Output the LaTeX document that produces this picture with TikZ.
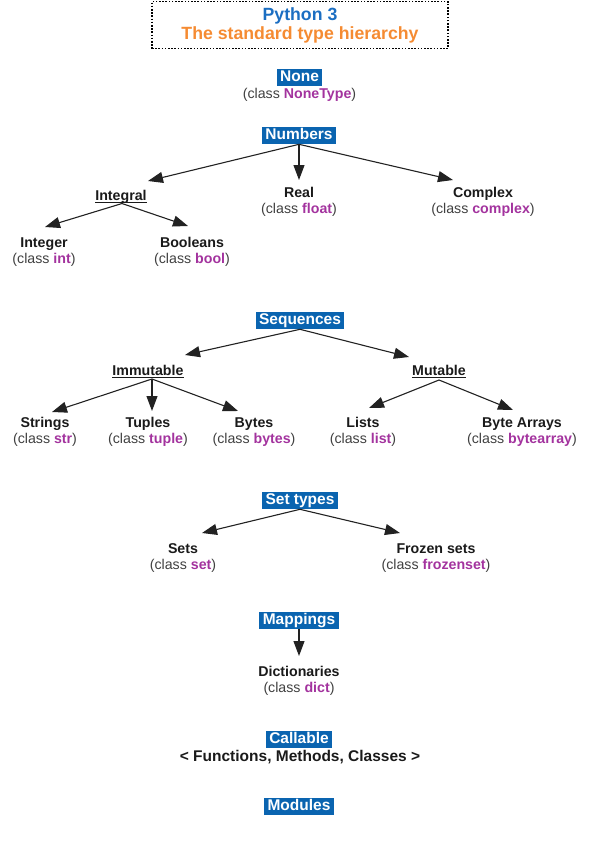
\documentclass[tikz,border=0pt]{standalone}
\usepackage{fontspec}
\setmainfont{Liberation Sans}
\usetikzlibrary{arrows.meta,calc}
\definecolor{boxblue}{HTML}{0A64B0}
\definecolor{titleblue}{HTML}{1B6EC2}
\definecolor{titleorange}{HTML}{F58B32}
\definecolor{clspurple}{HTML}{A3339E}
\definecolor{labeldark}{HTML}{1A1A1A}
\definecolor{clsgray}{HTML}{404040}
\definecolor{linedark}{HTML}{222222}
\newcommand\cn[1]{\textcolor{clspurple}{\textbf{#1}}}
\tikzset{
  box/.style={fill=boxblue,text=white,font=\fontsize{15.5}{17}\selectfont\bfseries,
    inner xsep=3.5pt,inner ysep=1.7pt,text height=10.8pt,text depth=3pt},
  itemname/.style={anchor=base,inner sep=0pt,text=labeldark,font=\fontsize{14.2}{16}\selectfont\bfseries},
  itemcls/.style={anchor=base,inner sep=0pt,text=clsgray,font=\fontsize{14.2}{16}\selectfont},
  arr/.style={draw=linedark,line width=1.1pt,-{Triangle[length=15pt,width=11pt]}},
  ulline/.style={draw=labeldark,line width=1.2pt},
  titlebox/.style={draw=black,line width=1.6pt,dash pattern=on 1.6pt off 1.6pt,
    minimum width=296pt,minimum height=47pt,align=center,inner sep=0pt,
    font=\fontsize{17.7}{19}\selectfont\bfseries},
}
\begin{document}
\begin{tikzpicture}[x=1pt,y=-1pt]
\useasboundingbox (0,0) rectangle (600,849);
% title
\node[titlebox] (title) at (300,25) {\textcolor{titleblue}{Python 3}\\\textcolor{titleorange}{The standard type hierarchy}};
% None
\node[box] (none) at (299.5,77.5) {None};
\node[itemcls] (nonetype) at (299.5,98) {(class \cn{NoneType})};
% Numbers
\node[box] (numbers) at (299,135.5) {Numbers};
\node[itemname] (integral) at (121,200) {Integral};
\node[itemname] (real) at (299,197) {Real};
\node[itemcls] (realcls) at (299,213) {(class \cn{float})};
\node[itemname] (complex) at (483,197) {Complex};
\node[itemcls] (complexcls) at (483,213) {(class \cn{complex})};
\node[itemname] (integer) at (44,247) {Integer};
\node[itemcls] (integercls) at (44,263) {(class \cn{int})};
\node[itemname] (booleans) at (192,247) {Booleans};
\node[itemcls] (booleanscls) at (192,263) {(class \cn{bool})};
% Sequences
\node[box] (sequences) at (300,320.5) {Sequences};
\node[itemname] (immutable) at (148,375) {Immutable};
\node[itemname] (mutable) at (439,375) {Mutable};
\node[itemname] (strings) at (45,427) {Strings};
\node[itemcls] (stringscls) at (45,443) {(class \cn{str})};
\node[itemname] (tuples) at (148,427) {Tuples};
\node[itemcls] (tuplescls) at (148,443) {(class \cn{tuple})};
\node[itemname] (bytes) at (254,427) {Bytes};
\node[itemcls] (bytescls) at (254,443) {(class \cn{bytes})};
\node[itemname] (lists) at (363,427) {Lists};
\node[itemcls] (listscls) at (363,443) {(class \cn{list})};
\node[itemname] (bytearrays) at (522,427) {Byte Arrays};
\node[itemcls] (bytearrayscls) at (522,443) {(class \cn{bytearray})};
% Set types
\node[box] (settypes) at (300,500.5) {Set types};
\node[itemname] (sets) at (183,553) {Sets};
\node[itemcls] (setscls) at (183,569) {(class \cn{set})};
\node[itemname] (frozensets) at (436,553) {Frozen sets};
\node[itemcls] (frozensetscls) at (436,569) {(class \cn{frozenset})};
% Mappings
\node[box] (mappings) at (299,620.5) {Mappings};
\node[itemname] (dicts) at (299,676) {Dictionaries};
\node[itemcls] (dictscls) at (299,692) {(class \cn{dict})};
% Callable
\node[box] (callable) at (299,739.5) {Callable};
\node[itemname,font=\fontsize{15.5}{17}\selectfont\bfseries] (callables) at (300,761) {< Functions, Methods, Classes >};
% Modules
\node[box] (modules) at (299,806.5) {Modules};
% underlines
\foreach \n in {integral,immutable,mutable}
  \draw[ulline] ($(\n.base west)+(0,2.5)$) -- ($(\n.base east)+(0,2.5)$);
% connectors
\draw[arr] (numbers.south) -- ($(integral.base)+(27,-19)$);
\draw[arr] (numbers.south) -- ($(real.base)+(0,-17)$);
\draw[arr] (numbers.south) -- ($(complex.base)+(-30,-17)$);
\draw[arr] ($(integral.base)+(1,3.5)$) -- ($(integer.base)+(1,-20)$);
\draw[arr] ($(integral.base)+(1,3.5)$) -- ($(booleans.base)+(-4,-21)$);
\draw[arr] (sequences.south) -- ($(immutable.base)+(37,-20)$);
\draw[arr] (sequences.south) -- ($(mutable.base)+(-30,-18)$);
\draw[arr] ($(immutable.base)+(4,4)$) -- ($(strings.base)+(7,-15)$);
\draw[arr] ($(immutable.base)+(4,4)$) -- ($(tuples.base)+(4,-16)$);
\draw[arr] ($(immutable.base)+(4,4)$) -- ($(bytes.base)+(-16,-16)$);
\draw[arr] ($(mutable.base)+(0,5)$) -- ($(lists.base)+(6,-19)$);
\draw[arr] ($(mutable.base)+(0,5)$) -- ($(bytearrays.base)+(-9,-17)$);
\draw[arr] (settypes.south) -- ($(sets.base)+(19,-20)$);
\draw[arr] (settypes.south) -- ($(frozensets.base)+(-36,-20)$);
\draw[arr] (mappings.south) -- ($(dicts.base)+(0,-20)$);
\end{tikzpicture}
\end{document}
